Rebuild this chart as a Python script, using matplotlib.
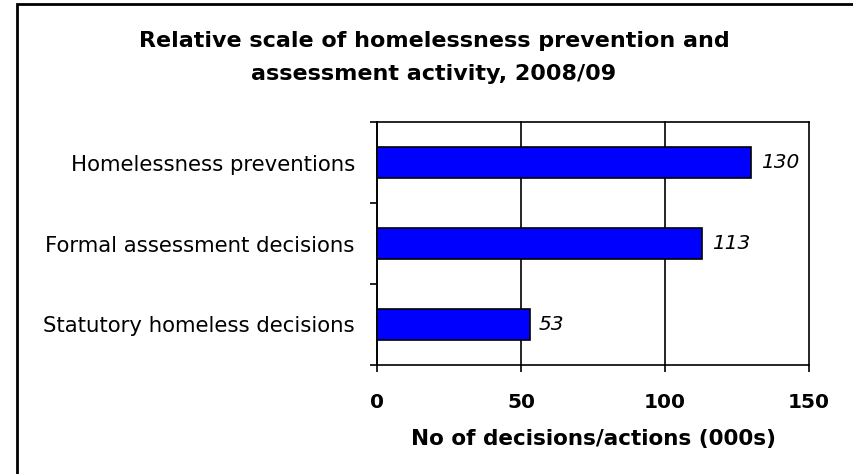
import matplotlib
matplotlib.use("Agg")
import matplotlib.pyplot as plt
from matplotlib.patches import Rectangle

categories = ["Statutory homeless decisions", "Formal assessment decisions", "Homelessness preventions"]
values = [53, 113, 130]
xticks = [0, 50, 100, 150]
title_lines = ["Relative scale of homelessness prevention and", "assessment activity, 2008/09"]
xlabel = "No of decisions/actions (000s)"

plt.rcParams['font.family'] = ['DejaVu Sans']
W, H = 854, 474
fig = plt.figure(figsize=(W / 100, H / 100), dpi=100)
ax = fig.add_axes([377 / W, 1 - 365 / H, (809 - 377) / W, (365 - 122) / H])

ypos = list(range(len(categories)))
ax.barh(ypos, values, height=0.39, color="#0000FF", edgecolor="black", linewidth=1.2, zorder=3)
for y, v in zip(ypos, values):
    ax.text(v + 3.2, y, f"{v}", va="center", ha="left", style="italic", fontsize=14.5)

ax.set_xlim(0, 150)
ax.set_ylim(-0.5, len(categories) - 0.5)
ax.set_xticks(xticks)
ax.set_xticklabels([str(t) for t in xticks], fontweight="bold", fontsize=14.5)
ax.set_yticks([y - 0.5 for y in ypos] + [len(categories) - 0.5])
ax.set_yticklabels([])
ax.set_yticks(ypos, minor=True)
ax.set_yticklabels(categories, minor=True, fontsize=15.3)
ax.tick_params(axis="y", which="minor", length=0, pad=16)
ax.tick_params(axis="y", which="major", length=5, width=1.2, direction="out")
ax.tick_params(axis="x", length=5, width=1.2, direction="out", pad=15)
ax.grid(axis="x", color="black", linewidth=1.2, zorder=0)
for gl in ax.get_xgridlines():
    gl.set_clip_on(False)
ax.spines["right"].set_visible(False)
for s in ["left", "bottom", "top"]:
    ax.spines[s].set_linewidth(1.2)

fig.text(593.5 / W, 1 - 445 / H, xlabel, ha="center", va="baseline", fontweight="bold", fontsize=15.5)

fig.text(434 / W, 1 - 47 / H, title_lines[0], ha="center", va="baseline", fontweight="bold", fontsize=16)
fig.text(434 / W, 1 - 80 / H, title_lines[1], ha="center", va="baseline", fontweight="bold", fontsize=16)

fig.add_artist(Rectangle((17 / W, -0.01), (853 - 17) / W + 0.02, 1 - 4 / H + 0.01,
                         transform=fig.transFigure, fill=False, edgecolor="black", linewidth=2))

fig.savefig("out.png", dpi=100)
